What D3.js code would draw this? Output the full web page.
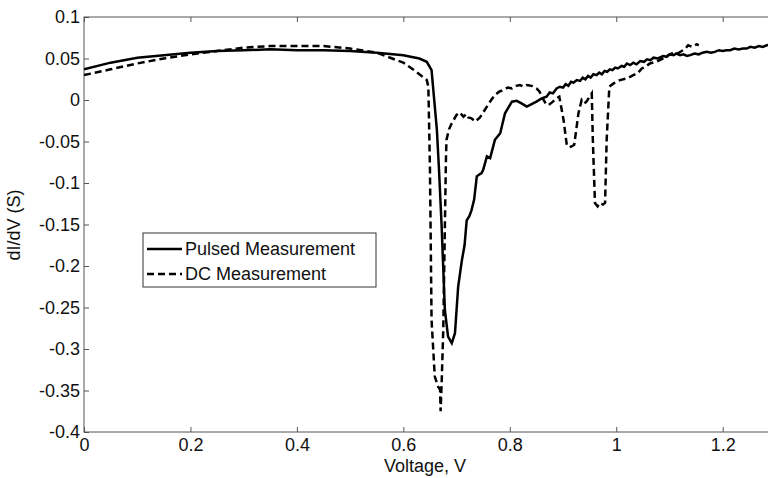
<!DOCTYPE html>
<html>
<head>
<meta charset="utf-8">
<script src="https://cdn.jsdelivr.net/npm/d3@7"></script>
<style>
  body { margin: 0; background: #fff; }
  text { font-family: Arial, "Liberation Sans", sans-serif; }
</style>
</head>
<body>
<div class="chart"></div>
<script>
var width = 768;
var height = 478;

// tick values
var xTicks = [0, 0.2, 0.4, 0.6, 0.8, 1, 1.2];
var yTicks = [0.1, 0.05, 0, -0.05, -0.1, -0.15, -0.2, -0.25, -0.3, -0.35, -0.4];

// [voltage, dI/dV]
var pulsed = [
  [0, 0.037], [0.05, 0.045], [0.1, 0.051], [0.15, 0.054], [0.2, 0.057], [0.25, 0.059],
  [0.3, 0.060], [0.35, 0.061], [0.4, 0.060], [0.45, 0.060], [0.5, 0.059], [0.55, 0.057],
  [0.6, 0.054], [0.63, 0.050], [0.644, 0.046], [0.653, 0.036], [0.663, -0.036], [0.667, -0.084],
  [0.672, -0.153], [0.678, -0.253], [0.684, -0.285], [0.691, -0.293], [0.697, -0.281],
  [0.703, -0.225], [0.710, -0.193], [0.715, -0.175], [0.719, -0.145], [0.724, -0.140],
  [0.728, -0.133], [0.733, -0.120], [0.738, -0.092], [0.742, -0.090], [0.747, -0.088],
  [0.750, -0.084], [0.757, -0.068], [0.763, -0.070], [0.772, -0.048], [0.782, -0.040],
  [0.791, -0.016], [0.804, -0.002], [0.813, -0.001], [0.822, -0.004], [0.832, -0.008],
  [0.841, -0.005], [0.850, -0.002], [0.860, 0.002], [0.869, 0.004], [0.875, 0.009],
  [0.881, 0.008], [0.888, 0.014], [0.894, 0.016], [0.900, 0.015], [0.905, 0.019],
  [0.910, 0.017], [0.915, 0.022], [0.920, 0.021], [0.926, 0.024], [0.932, 0.023],
  [0.937, 0.027], [0.942, 0.025], [0.947, 0.029], [0.952, 0.027], [0.957, 0.031],
  [0.963, 0.030], [0.968, 0.033], [0.973, 0.031], [0.978, 0.035], [0.983, 0.034],
  [0.988, 0.037], [0.993, 0.036], [0.998, 0.039], [1.003, 0.038], [1.010, 0.041],
  [1.015, 0.040], [1.020, 0.044], [1.026, 0.042], [1.032, 0.045], [1.038, 0.043],
  [1.045, 0.047], [1.052, 0.046], [1.058, 0.049], [1.064, 0.048], [1.070, 0.051],
  [1.078, 0.050], [1.088, 0.053], [1.095, 0.052], [1.100, 0.055], [1.108, 0.054],
  [1.113, 0.056], [1.120, 0.054], [1.126, 0.055], [1.133, 0.053], [1.139, 0.054],
  [1.147, 0.056], [1.155, 0.055], [1.162, 0.057], [1.170, 0.058], [1.178, 0.057],
  [1.185, 0.058], [1.193, 0.060], [1.200, 0.059], [1.207, 0.060], [1.214, 0.060],
  [1.222, 0.062], [1.230, 0.061], [1.238, 0.062], [1.245, 0.062], [1.252, 0.064],
  [1.260, 0.063], [1.268, 0.065], [1.275, 0.064], [1.283, 0.066], [1.29, 0.067]
];

var dc = [
  [0, 0.030], [0.05, 0.037], [0.1, 0.044], [0.15, 0.050], [0.2, 0.055], [0.25, 0.059],
  [0.3, 0.063], [0.35, 0.065], [0.4, 0.065], [0.45, 0.065], [0.5, 0.062], [0.55, 0.057],
  [0.6, 0.045], [0.62, 0.036], [0.644, 0.024], [0.647, 0.016], [0.650, -0.084],
  [0.653, -0.265], [0.659, -0.333], [0.665, -0.345], [0.669, -0.349], [0.670, -0.375],
  [0.672, -0.340], [0.675, -0.277], [0.678, -0.153], [0.680, -0.072], [0.681, -0.048],
  [0.686, -0.035], [0.691, -0.028], [0.700, -0.018], [0.706, -0.015], [0.713, -0.020],
  [0.718, -0.017], [0.722, -0.021], [0.728, -0.022], [0.735, -0.026], [0.744, -0.021],
  [0.750, -0.015], [0.757, -0.008], [0.765, 0.000], [0.772, 0.006], [0.780, 0.010],
  [0.788, 0.012], [0.796, 0.015], [0.804, 0.014], [0.812, 0.017], [0.819, 0.018],
  [0.826, 0.016], [0.832, 0.018], [0.841, 0.017], [0.850, 0.014], [0.856, 0.010],
  [0.860, 0.004], [0.869, -0.006], [0.875, -0.005], [0.881, -0.002], [0.887, 0.002],
  [0.893, 0.004], [0.897, -0.010], [0.901, -0.024], [0.907, -0.054], [0.912, -0.057],
  [0.916, -0.056], [0.921, -0.054], [0.925, -0.035], [0.929, -0.016], [0.935, 0.000],
  [0.940, -0.004], [0.944, -0.002], [0.950, 0.004], [0.954, 0.008], [0.956, -0.048],
  [0.960, -0.124], [0.965, -0.128], [0.969, -0.124], [0.975, -0.126], [0.979, -0.124],
  [0.982, -0.048], [0.987, 0.016], [0.995, 0.020], [1.007, 0.024], [1.020, 0.026],
  [1.032, 0.030], [1.040, 0.032], [1.048, 0.038], [1.055, 0.040], [1.063, 0.044],
  [1.075, 0.046], [1.088, 0.050], [1.095, 0.053], [1.107, 0.057], [1.115, 0.056],
  [1.123, 0.059], [1.130, 0.062], [1.135, 0.066], [1.142, 0.064], [1.151, 0.067], [1.155, 0.066]
];

var legendLabels = ['Pulsed Measurement', 'DC Measurement'];

var padL = 84, padT = 17, padB = 432;
var padR = 84 + 1.3 * 532.25;

var x = d3.scaleLinear().domain([0, 1.3]).range([padL, padR]);
var y = d3.scaleLinear().domain([-0.4, 0.1]).range([padB, padT]);

var svg = d3.select('.chart')
  .append('svg')
  .attr('width', width)
  .attr('height', height);

svg.append('defs').append('clipPath').attr('id', 'clip')
  .append('rect')
  .attr('x', padL).attr('y', padT)
  .attr('width', padR - padL).attr('height', padB - padT);

var fmt = function(d){ return String(+d.toFixed(2)); };

// axes with inward ticks
var gx = svg.append('g')
  .attr('transform', 'translate(0,' + padB + ')')
  .call(d3.axisBottom(x).tickValues(xTicks).tickSize(-5).tickPadding(6).tickFormat(fmt));
var gxTop = svg.append('g')
  .attr('transform', 'translate(0,' + padT + ')')
  .call(d3.axisTop(x).tickValues(xTicks).tickSize(-5).tickFormat(''));
var gy = svg.append('g')
  .attr('transform', 'translate(' + padL + ',0)')
  .call(d3.axisLeft(y).tickValues(yTicks).tickSize(-5).tickPadding(4).tickFormat(fmt));

[gx, gxTop, gy].forEach(function(g){
  g.select('.domain').remove();
  g.selectAll('line').attr('stroke', '#555');
  g.selectAll('text')
    .attr('fill', '#111')
    .style('font-size', '18px')
    .style('font-family', 'Arial, "Liberation Sans", sans-serif');
});

svg.append('rect')
  .attr('x', padL).attr('y', padT)
  .attr('width', padR - padL).attr('height', padB - padT)
  .attr('fill', 'none')
  .attr('stroke', '#555')
  .attr('stroke-width', 1);

var line = d3.line()
  .x(function(d){ return x(d[0]); })
  .y(function(d){ return y(d[1]); });

var plot = svg.append('g').attr('clip-path', 'url(#clip)');

plot.append('path')
  .datum(dc)
  .attr('d', line)
  .attr('fill', 'none')
  .attr('stroke', '#000')
  .attr('stroke-width', 2.5)
  .attr('stroke-dasharray', '7,4');

plot.append('path')
  .datum(pulsed)
  .attr('d', line)
  .attr('fill', 'none')
  .attr('stroke', '#000')
  .attr('stroke-width', 2.5);

// axis titles
svg.append('text')
  .attr('x', 425)
  .attr('y', 472)
  .attr('text-anchor', 'middle')
  .attr('fill', '#111')
  .style('font-size', '18px')
  .text('Voltage, V');

svg.append('text')
  .attr('transform', 'translate(20,225) rotate(-90)')
  .attr('text-anchor', 'middle')
  .attr('fill', '#111')
  .style('font-size', '18px')
  .text('dI/dV (S)');

// legend
var lg = svg.append('g');
lg.append('rect')
  .attr('x', 143).attr('y', 233)
  .attr('width', 233).attr('height', 54)
  .attr('fill', '#fff')
  .attr('stroke', '#333')
  .attr('stroke-width', 1);

legendLabels.forEach(function(t, i){
  var yy = 249 + i * 25;
  lg.append('line')
    .attr('x1', 147).attr('x2', 182)
    .attr('y1', yy).attr('y2', yy)
    .attr('stroke', '#000')
    .attr('stroke-width', 2.5)
    .attr('stroke-dasharray', i === 1 ? '7,4' : null);
  lg.append('text')
    .attr('x', 185)
    .attr('y', yy + 6)
    .attr('fill', '#111')
    .style('font-size', '18px')
    .text(t);
});
</script>
</body>
</html>
